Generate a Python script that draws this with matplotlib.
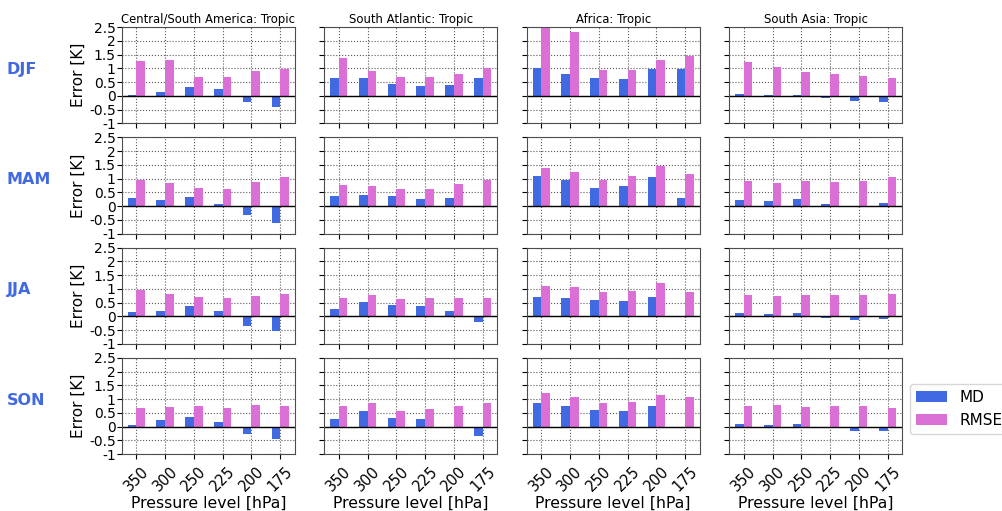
import numpy as np
import matplotlib
matplotlib.use('Agg')
import matplotlib.pyplot as plt

# pressure levels and regions
levels = ['350', '300', '250', '225', '200', '175']
regions = ['Central/South America: Tropic', 'South Atlantic: Tropic',
           'Africa: Tropic', 'South Asia: Tropic']
seasons = ['DJF', 'MAM', 'JJA', 'SON']
yticks = [-1, -0.5, 0, 0.5, 1, 1.5, 2, 2.5]
ytick_labels = ['-1', '-0.5', '0', '0.5', '1', '1.5', '2', '2.5']

# mean difference (MD), one list per season, one row per region
md_djf = [[0.04, 0.12, 0.32, 0.23, -0.23, -0.39],
          [0.66, 0.63, 0.44, 0.34, 0.41, 0.63],
          [1.01, 0.80, 0.66, 0.62, 0.98, 0.96],
          [0.05, 0.04, 0.04, -0.07, -0.18, -0.21]]
md_mam = [[0.30, 0.23, 0.33, 0.07, -0.32, -0.61],
          [0.36, 0.39, 0.36, 0.26, 0.28, 0.0],
          [1.09, 0.94, 0.64, 0.73, 1.06, 0.28],
          [0.22, 0.19, 0.26, 0.07, -0.05, 0.12]]
md_jja = [[0.17, 0.21, 0.39, 0.18, -0.36, -0.54],
          [0.28, 0.52, 0.40, 0.38, 0.19, -0.19],
          [0.70, 0.68, 0.59, 0.54, 0.71, 0.0],
          [0.13, 0.08, 0.13, -0.07, -0.15, -0.10]]
md_son = [[0.06, 0.22, 0.35, 0.16, -0.28, -0.46],
          [0.29, 0.55, 0.32, 0.27, -0.06, -0.36],
          [0.86, 0.76, 0.61, 0.56, 0.74, 0.0],
          [0.08, 0.05, 0.08, -0.07, -0.15, -0.15]]

# root mean square error (RMSE)
rmse_djf = [[1.25, 1.29, 0.70, 0.67, 0.89, 0.96],
            [1.36, 0.92, 0.70, 0.68, 0.80, 1.02],
            [2.46, 2.31, 0.95, 0.95, 1.29, 1.43],
            [1.24, 1.06, 0.85, 0.79, 0.72, 0.64]]
rmse_mam = [[0.94, 0.84, 0.64, 0.62, 0.86, 1.05],
            [0.75, 0.74, 0.63, 0.63, 0.80, 0.94],
            [1.39, 1.23, 0.95, 1.09, 1.45, 1.18],
            [0.92, 0.85, 0.90, 0.89, 0.91, 1.05]]
rmse_jja = [[0.96, 0.82, 0.70, 0.68, 0.75, 0.82],
            [0.67, 0.77, 0.62, 0.65, 0.68, 0.67],
            [1.11, 1.05, 0.88, 0.93, 1.21, 0.88],
            [0.77, 0.75, 0.76, 0.76, 0.79, 0.82]]
rmse_son = [[0.67, 0.71, 0.73, 0.68, 0.77, 0.76],
            [0.74, 0.84, 0.58, 0.62, 0.73, 0.84],
            [1.22, 1.08, 0.86, 0.90, 1.16, 1.09],
            [0.75, 0.79, 0.71, 0.74, 0.76, 0.69]]

md_all = [md_djf, md_mam, md_jja, md_son]
rmse_all = [rmse_djf, rmse_mam, rmse_jja, rmse_son]

md_color = 'royalblue'
rmse_color = 'orchid'


def run():
    fig, axes = plt.subplots(4, 4, figsize=(10.03, 5.11), dpi=100, sharey=True)
    fig.subplots_adjust(left=0.1216, right=0.8993, top=0.947, bottom=0.1115,
                        wspace=0.173, hspace=0.146)

    x = np.arange(len(levels))
    w = 0.3

    for i, season in enumerate(seasons):
        for j, region in enumerate(regions):
            ax = axes[i, j]
            ax.set_axisbelow(True)
            ax.grid(True, linestyle=':', color='0.35', lw=0.8)
            ax.bar(x - w / 2, md_all[i][j], w, color=md_color, label='MD')
            ax.bar(x + w / 2, rmse_all[i][j], w, color=rmse_color, label='RMSE')
            ax.axhline(0, color='black', lw=1)
            ax.set_xlim(-0.5, 5.5)
            ax.set_ylim(-1, 2.5)
            ax.set_yticks(yticks)
            ax.set_yticklabels(ytick_labels)
            ax.set_xticks(x)
            for s in ax.spines.values():
                s.set_color('0.3')
            if i == 3:
                ax.set_xticklabels(levels, rotation=45, fontsize=10.5)
                ax.set_xlabel('Pressure level [hPa]', fontsize=11.3, labelpad=1)
            else:
                ax.set_xticklabels([])
            if j == 0:
                ax.tick_params(axis='y', labelsize=10, pad=1)
                ax.set_ylabel('Error [K]', fontsize=11, labelpad=2)
                pos = ax.get_position()
                # season label at far left, left aligned
                fig.text(7 / 1003, pos.y0 + pos.height * 0.56, season,
                         fontsize=11.5, fontweight='bold', color=md_color,
                         ha='left', va='center')
            if i == 0:
                ax.set_title(region, fontsize=8.4, pad=3)

    handles, labels = axes[0, 0].get_legend_handles_labels()
    fig.legend(handles, labels, loc='center left', fontsize=11,
               bbox_to_anchor=(0.9, 0.2))

    plt.savefig('out.png', dpi=100)


if __name__ == '__main__':
    run()
